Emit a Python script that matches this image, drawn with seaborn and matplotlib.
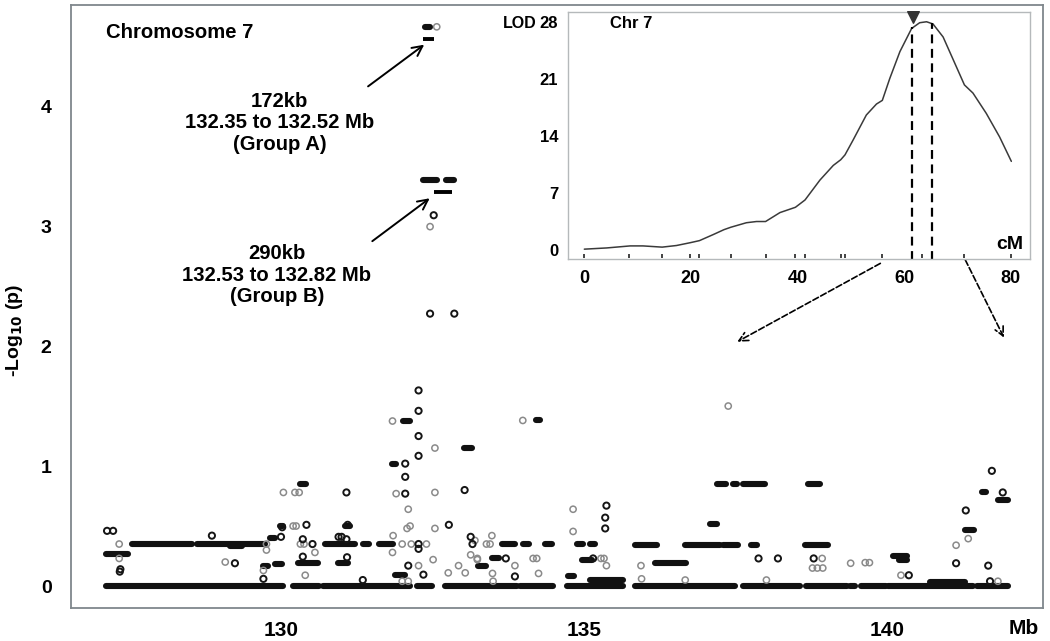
import matplotlib
matplotlib.use("Agg")
import matplotlib.pyplot as plt
import seaborn as sns
import pandas as pd

sns.set_style("white")
plt.rcParams['font.family'] = ['Liberation Sans', 'DejaVu Sans']
plt.rcParams['font.weight'] = 'bold'
plt.rcParams['text.color'] = 'black'
plt.rcParams['xtick.labelcolor'] = 'black'
plt.rcParams['ytick.labelcolor'] = 'black'

# runs of SNPs sharing one p value: start Mb, end Mb, -log10 p
run_start = [127.12, 130.20, 130.70, 132.24, 132.71, 133.94, 134.72, 135.84, 137.63, 138.67,
             139.39, 139.57, 140.02, 141.48,
             127.54, 128.61, 130.73, 131.35, 131.61, 133.64, 134.00, 134.36, 134.88, 135.10,
             135.84, 136.66, 137.29, 137.76, 138.65,
             127.12, 129.16, 129.70, 129.90, 130.28, 130.94, 130.31, 131.83, 132.01, 133.02,
             134.20, 131.88, 133.25, 133.48, 134.74, 134.96, 135.10, 136.17, 137.08, 137.19,
             137.46, 137.63, 138.70, 140.10, 140.20, 140.71, 141.29, 141.56, 141.83, 129.82,
             132.35, 132.73, 132.38, 129.98, 131.06]
run_end = [130.03, 130.62, 132.13, 132.49, 133.89, 134.49, 135.65, 137.49, 138.57, 139.34,
           139.47, 139.99, 141.42, 142.00,
           128.53, 129.74, 131.22, 131.45, 131.85, 133.86, 134.10, 134.47, 134.99, 135.18,
           136.20, 137.25, 137.54, 137.85, 139.03,
           127.48, 129.35, 129.78, 130.02, 130.61, 131.11, 130.42, 131.90, 132.13, 133.15,
           134.28, 132.05, 133.39, 133.59, 134.84, 135.13, 135.65, 136.69, 137.19, 137.35,
           137.53, 137.99, 138.90, 140.33, 140.33, 141.29, 141.43, 141.64, 142.00, 129.90,
           132.58, 132.86, 132.46, 130.03, 131.14]
run_p = [0, 0, 0, 0, 0, 0, 0, 0, 0, 0,
         0, 0, 0, 0,
         0.35, 0.35, 0.35, 0.35, 0.35, 0.35, 0.35, 0.35, 0.35, 0.35,
         0.345, 0.345, 0.345, 0.345, 0.345,
         0.27, 0.335, 0.17, 0.18, 0.19, 0.19, 0.85, 1.02, 1.375, 1.15,
         1.38, 0.095, 0.17, 0.23, 0.08, 0.22, 0.05, 0.19, 0.52, 0.85,
         0.85, 0.85, 0.85, 0.25, 0.22, 0.035, 0.47, 0.78, 0.72, 0.40,
         3.38, 3.38, 4.66, 0.50, 0.50]

# single SNPs, dark symbols
dark_mb = [127.13, 127.23, 127.34, 127.35, 128.86, 129.24, 129.71, 130.02, 130.00, 130.42,
           130.52, 130.36, 130.36, 131.08, 131.10, 131.09, 131.08, 131.35, 132.27, 132.27,
           132.27, 132.27, 132.05, 132.05, 132.05, 133.03, 132.77, 132.27, 132.10, 132.35,
           133.13, 133.16, 133.71, 133.86, 135.37, 135.35, 135.35, 135.15, 137.88, 138.20,
           138.79, 141.73, 141.91, 141.30, 141.14, 141.67, 141.70, 140.36, 132.52, 132.46,
           132.86, 132.27, 131.00, 130.95]
dark_p = [0.46, 0.46, 0.12, 0.14, 0.42, 0.19, 0.06, 0.49, 0.41, 0.51,
          0.35, 0.39, 0.245, 0.78, 0.51, 0.24, 0.39, 0.05, 1.63, 1.46,
          1.25, 1.085, 0.91, 0.77, 1.02, 0.80, 0.51, 0.31, 0.17, 0.095,
          0.41, 0.35, 0.23, 0.08, 0.67, 0.57, 0.48, 0.23, 0.23, 0.23,
          0.23, 0.96, 0.78, 0.63, 0.19, 0.17, 0.04, 0.09, 3.09, 2.27,
          2.27, 0.35, 0.41, 0.41]

# single SNPs, grey symbols
light_mb = [127.33, 127.33, 129.08, 129.76, 129.76, 129.71, 130.04, 130.23, 130.30, 130.20,
            130.25, 130.56, 130.40, 131.84, 132.54, 131.90, 132.54, 132.10, 132.13, 132.08,
            132.54, 131.85, 131.84, 132.51, 133.13, 133.24, 132.93, 133.04, 132.76, 132.27,
            132.00, 132.10, 133.20, 133.24, 133.39, 133.45, 133.48, 133.49, 133.50, 133.86,
            133.99, 134.16, 134.22, 134.25, 134.82, 134.82, 135.28, 135.33, 135.37, 135.94,
            135.95, 136.67, 137.38, 138.01, 138.93, 138.77, 138.85, 138.94, 139.40, 139.64,
            139.71, 140.23, 141.34, 141.14, 141.83, 132.57, 132.46, 132.40, 132.15, 132.00,
            130.32, 130.38]
light_p = [0.35, 0.23, 0.20, 0.35, 0.30, 0.13, 0.78, 0.78, 0.78, 0.50,
           0.50, 0.28, 0.09, 1.375, 1.15, 0.77, 0.78, 0.64, 0.50, 0.48,
           0.48, 0.42, 0.28, 0.22, 0.26, 0.22, 0.17, 0.11, 0.11, 0.17,
           0.04, 0.04, 0.38, 0.23, 0.35, 0.35, 0.42, 0.105, 0.04, 0.17,
           1.38, 0.23, 0.23, 0.105, 0.64, 0.455, 0.23, 0.23, 0.17, 0.17,
           0.06, 0.05, 1.50, 0.05, 0.23, 0.15, 0.15, 0.15, 0.19, 0.195,
           0.195, 0.09, 0.395, 0.34, 0.04, 4.66, 2.995, 0.35, 0.35, 0.35,
           0.35, 0.35]

# haplotype blocks
block_start = [132.35, 132.53]
block_end = [132.52, 132.82]
block_p = [4.56, 3.28]

# inset LOD profile
cm = [0, 4.2, 8.6, 11, 14.6, 17.3, 19.9, 21.6, 24.2, 26.2, 27.5, 30.4, 32.3, 34, 36.7,
      39.6, 41.4, 44.2, 46.7, 48.1, 48.9, 50.4, 52.9, 54.8, 55.9, 57.3, 59.2, 61.4, 62.9,
      64.2, 65.4, 67.3, 69.2, 71.3, 72.9, 75.4, 77.9, 80.1]
lod = [0.1, 0.25, 0.5, 0.5, 0.35, 0.55, 0.9, 1.15, 1.9, 2.5, 2.8, 3.35, 3.5, 3.5, 4.6,
       5.25, 6.15, 8.6, 10.4, 11.1, 11.7, 13.5, 16.6, 17.95, 18.4, 21.1, 24.4, 27.25, 27.95,
       28.07, 27.8, 26.2, 23.4, 20.3, 19.3, 16.8, 13.9, 10.9]
markers_cm = [0, 8.4, 14.6, 19.9, 21.6, 27.5, 34, 39.6, 41.4, 48.1, 48.9, 55.9, 61.4,
              63.4, 71.3, 80]
ci_cm = [61.5, 65.3]
ci_lod = [27.4, 27.9]
peak_cm = 61.7

fig = plt.figure(figsize=(10.5, 6.41), dpi=100)
ax = fig.add_axes([71 / 1050, 1 - 608 / 641, 972 / 1050, 603 / 641])

ax.hlines(run_p, run_start, run_end, colors='#111111', lw=4.4, capstyle='round', zorder=2)
sns.scatterplot(x=light_mb, y=light_p, ax=ax, marker='o', s=20, facecolor='none',
                edgecolor='#8a8a8a', linewidth=1.1, zorder=3)
sns.scatterplot(x=dark_mb, y=dark_p, ax=ax, marker='o', s=20, facecolor='none',
                edgecolor='#151515', linewidth=1.4, zorder=3)
ax.hlines(block_p, block_start, block_end, colors='black', lw=2.8, zorder=4)

ax.set_xlim(126.535, 142.574)
ax.set_ylim(-0.183, 4.842)
ax.set_xticks([130, 135, 140])
ax.set_yticks([0, 1, 2, 3, 4])
ax.tick_params(axis='x', length=7, width=2.2, color='#222222', labelsize=15, pad=2.5)
ax.tick_params(axis='y', length=4, width=1, color='#888888', labelsize=14, pad=10)
for s in ax.spines.values():
    s.set_color('#7f878c')
    s.set_linewidth(1.3)
ax.set_xlabel('')
ax.set_ylabel('')
fig.text(15 / 1050, 1 - 330 / 641, r'-Log$_{\mathbf{10}}$ (p)', rotation=90,
         ha='center', va='center', fontsize=14, fontweight='bold')
fig.text(1024 / 1050, 1 - 629 / 641, 'Mb', ha='center', va='center', fontsize=15,
         fontweight='bold')

ax.text(106 / 1050, 1 - 32 / 641, 'Chromosome 7', transform=fig.transFigure,
        ha='left', va='center', fontsize=14.6, fontweight='bold')
ax.text(129.98, 3.86, '172kb\n132.35 to 132.52 Mb\n(Group A)', ha='center', va='center',
        fontsize=14.6, fontweight='bold', linespacing=1.15)
ax.text(129.93, 2.59, '290kb\n132.53 to 132.82 Mb\n(Group B)', ha='center', va='center',
        fontsize=14.6, fontweight='bold', linespacing=1.15)
ax.annotate('', xy=(132.40, 4.525), xytext=(131.40, 4.15),
            arrowprops=dict(arrowstyle='->', lw=1.4, color='black', mutation_scale=18))
ax.annotate('', xy=(132.49, 3.245), xytext=(131.47, 2.86),
            arrowprops=dict(arrowstyle='->', lw=1.4, color='black', mutation_scale=18))
ax.annotate('', xy=(137.49, 2.025), xytext=(139.93, 2.70),
            arrowprops=dict(arrowstyle='->', lw=1.2, color='black', linestyle='--',
                            mutation_scale=16))
ax.annotate('', xy=(141.95, 2.05), xytext=(141.27, 2.74),
            arrowprops=dict(arrowstyle='->', lw=1.2, color='black', linestyle='--',
                            mutation_scale=16))

# inset
ins = fig.add_axes([568 / 1050, 1 - 259 / 641, 462 / 1050, 247 / 641])
ins.set_facecolor('white')
prof = pd.DataFrame({'cM': cm, 'LOD': lod})
sns.lineplot(data=prof, x='cM', y='LOD', ax=ins, color='#3a3a3a', lw=1.1, estimator=None)
ins.vlines(ci_cm, -1.2, ci_lod, colors='black', linestyles=(0, (4, 2.5)), lw=1.6)
ins.scatter([peak_cm], [28.6], marker='v', s=70, color='#333333', zorder=5, clip_on=False)
ins.scatter(markers_cm, [-0.8] * len(markers_cm), marker='|', s=6, color='#222222',
            linewidth=1.2)
ins.set_xlim(-3.06, 83.6)
ins.set_ylim(-1.11, 29.27)
ins.set_xticks([0, 20, 40, 60, 80])
ins.set_yticks([0, 7, 14, 21, 28])
ins.tick_params(axis='x', length=0, labelsize=13, pad=8)
ins.tick_params(axis='y', length=4, width=1, color='#888888', labelsize=12, pad=3)
ins.set_xlabel('')
ins.set_ylabel('')
for s in ins.spines.values():
    s.set_color('#b5b9bb')
    s.set_linewidth(1.0)
ins.text(0.09, 0.955, 'Chr 7', transform=ins.transAxes, ha='left', va='center',
         fontsize=12, fontweight='bold')
ins.text(0.985, 0.06, 'cM', transform=ins.transAxes, ha='right', va='center',
         fontsize=14, fontweight='bold')
fig.text(537 / 1050, 1 - 24 / 641, 'LOD', ha='right', va='center', fontsize=11.5,
         fontweight='bold')

fig.savefig('out.png', dpi=100)
